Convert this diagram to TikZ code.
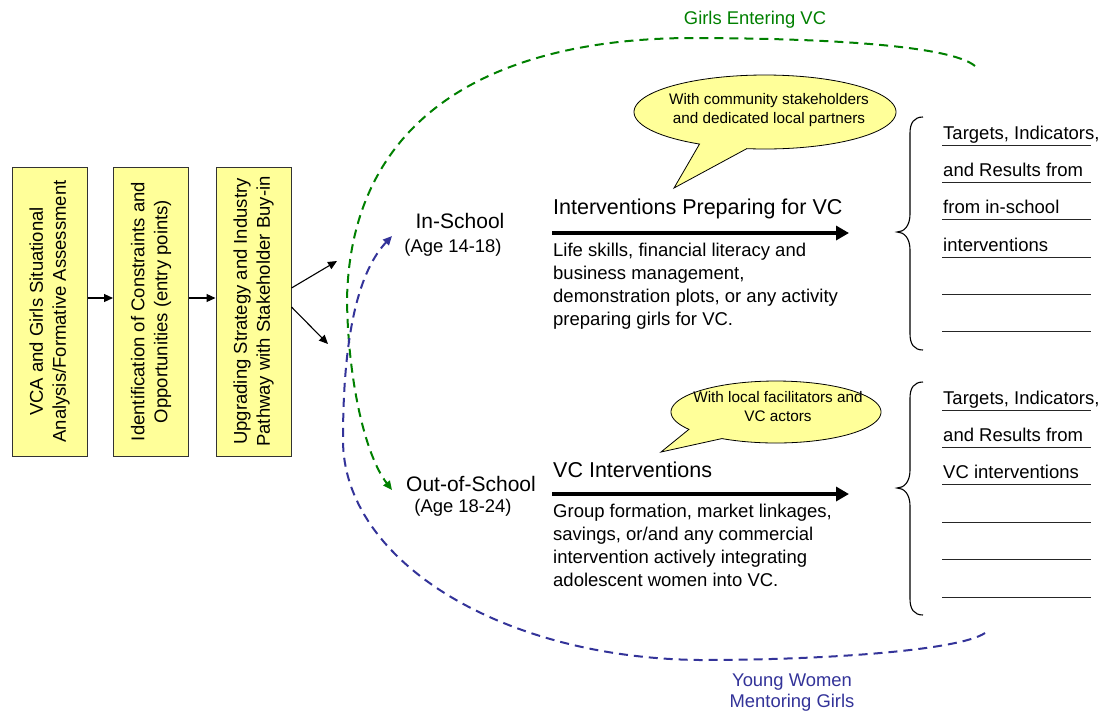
\documentclass[tikz,border=0pt]{standalone}
\usepackage{fontspec}
\setmainfont{Liberation Sans}
\usetikzlibrary{arrows.meta,calc}
\definecolor{boxfill}{HTML}{FFFF99}
\definecolor{entergreen}{HTML}{008000}
\definecolor{mentorblue}{HTML}{333399}
\newcommand\fsz[2]{\fontsize{#1}{#2}\selectfont}

\begin{document}
\begin{tikzpicture}[x=1pt,y=-1pt,
  stagebox/.style={draw=black!80, line width=1pt, fill=boxfill,
    minimum width=75pt, minimum height=289pt, inner sep=0pt},
  stagetext/.style={rotate=90, align=center, inner sep=0pt, font=\fsz{18.5}{23}},
  flowarrow/.style={line width=1.1pt, -{Triangle[length=9pt,width=8pt]}},
  mainarrow/.style={line width=4.5pt, -{Triangle[length=13pt,width=14pt]}},
  grouptext/.style={inner sep=0pt, font=\fsz{21}{25}},
  agetext/.style={inner sep=0pt, font=\fsz{18.4}{22}},
  headtext/.style={inner sep=0pt, anchor=base west, font=\fsz{21.5}{25}},
  desctext/.style={inner sep=0pt, anchor=base west, align=left, font=\fsz{18.5}{22.7}},
  bubble/.style={draw=black, line width=0.8pt, fill=boxfill},
  bubbletext/.style={inner sep=0pt, anchor=base, align=center, font=\fsz{15.3}{19}},
  listtext/.style={inner sep=0pt, anchor=base west, font=\fsz{18.5}{22}},
  listrule/.style={line width=1pt, black!85},
  bracket/.style={line width=1.1pt, black},
  greenpath/.style={entergreen, line width=2pt, dash pattern=on 9pt off 6pt,
    -{Triangle[length=9pt,width=8pt]}},
  bluepath/.style={mentorblue, line width=2pt, dash pattern=on 9pt off 6pt,
    -{Triangle[length=9pt,width=8pt]}},
  pathlabel/.style={inner sep=0pt, anchor=base, align=center, font=\fsz{18.4}{21}}
]
\useasboundingbox (0,0) rectangle (1107,713);
\fill[white] (0,0) rectangle (1107,713);

% three stage boxes
\node[stagebox] (b1) at (49.5,311.5) {};
\node[stagebox] (b2) at (151,311.5) {};
\node[stagebox] (b3) at (253.5,311.5) {};
\node[stagetext] (t1) at (b1) {VCA and Girls Situational\\Analysis/Formative Assessment};
\node[stagetext] (t2) at (b2) {Identification of Constraints and\\Opportunities (entry points)};
\node[stagetext] (t3) at (b3) {Upgrading Strategy and Industry\\Pathway with Stakeholder Buy-in};

\draw[flowarrow] ($(b1.east)+(0,-13.5)$) -- ($(b2.west)+(0,-13.5)$);
\draw[flowarrow] ($(b2.east)+(0,-13.5)$) -- ($(b3.west)+(0,-13.5)$);
\coordinate (s1) at (337,261);
\coordinate (s2) at (328,344);
\draw[flowarrow] ($(b3.east)+(0,-23.5)$) -- (s1);
\draw[flowarrow] ($(b3.east)+(0,-4.5)$) -- (s2);

% target groups
\node[grouptext, anchor=base] (ins) at (460,228) {In-School};
\node[agetext, anchor=base] (insage) at (453,252) {(Age 14-18)};
\node[grouptext, anchor=base] (outs) at (471,491) {Out-of-School};
\node[agetext, anchor=base] (outsage) at (463,512) {(Age 18-24)};

% intervention tracks (multi-line nodes sit on their last baseline)
\node[headtext] (h1) at (553,214) {Interventions Preparing for VC};
\coordinate (a1s) at (552,233);
\coordinate (a1e) at (849,233);
\draw[mainarrow] (a1s) -- (a1e);
\node[desctext] (d1) at (553,325) {Life skills, financial literacy and\\business management,\\demonstration plots, or any activity\\preparing girls for VC.};

\node[headtext] (h2) at (553,477) {VC Interventions};
\coordinate (a2s) at (552,494);
\coordinate (a2e) at (849,494);
\draw[mainarrow] (a2s) -- (a2e);
\node[desctext] (d2) at (553,586) {Group formation, market linkages,\\savings, or/and any commercial\\intervention actively integrating\\adolescent women into VC.};

% speech bubbles
\draw[bubble] plot[domain=120:458, samples=120] ({765+131*cos(\x)},{112+37*sin(\x)}) -- (674,188) -- cycle;
\node[bubbletext] (c1) at (769,123) {With community stakeholders\\and dedicated local partners};
\draw[bubble] plot[domain=146:481, samples=120] ({776+105*cos(\x)},{412+31*sin(\x)}) -- (661,452) -- cycle;
\node[bubbletext] (c2) at (778,421) {With local facilitators and\\VC actors};

% result braces
\draw[bracket] (923,117) .. controls (914,117) and (910,123) .. (910,133) -- (910,214)
  .. controls (910,226) and (904,232) .. (897,232)
  .. controls (904,232) and (910,238) .. (910,250) -- (910,334)
  .. controls (910,344) and (914,350) .. (923,350);
\draw[bracket] (923,382) .. controls (914,382) and (910,388) .. (910,398) -- (910,470)
  .. controls (910,482) and (904,488) .. (897,488)
  .. controls (904,488) and (910,494) .. (910,506) -- (910,599)
  .. controls (910,609) and (914,615) .. (923,615);

\foreach \yy in {145,182,219,257,294,331,410,447,484,522,559,597}
  \draw[listrule] (942,\yy) -- (1091,\yy);
\node[listtext] (r1) at (943,139) {Targets, Indicators,};
\node[listtext] (r2) at (943,176) {and Results from};
\node[listtext] (r3) at (943,213) {from in-school};
\node[listtext] (r4) at (943,251) {interventions};
\node[listtext] (q1) at (943,404) {Targets, Indicators,};
\node[listtext] (q2) at (943,441) {and Results from};
\node[listtext] (q3) at (943,478) {VC interventions};

% feedback loops
\coordinate (gstart) at (975,66);
\coordinate (gend) at (392,490);
\draw[greenpath] (gstart) .. controls (950,45) and (820,38) .. (687,38)
  .. controls (480,40) and (350,125) .. (347,300)
  .. controls (348,380) and (365,455) .. (gend);
\node[pathlabel, text=entergreen] (gl) at (755,24) {Girls Entering VC};

\coordinate (bstart) at (985,633);
\coordinate (bend) at (392,236);
\draw[bluepath] (bstart) .. controls (960,650) and (830,660) .. (700,660)
  .. controls (500,658) and (343,560) .. (343,440)
  .. controls (343,330) and (360,270) .. (bend);
\node[pathlabel, text=mentorblue] (bl) at (792,707) {Young Women\\Mentoring Girls};
\end{tikzpicture}
\end{document}
